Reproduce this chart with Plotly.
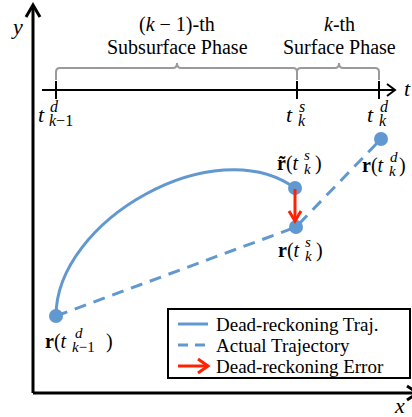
import plotly.graph_objects as go

# ---------------- data (diagram coordinates, y grows downward) ----------------
actual_x = [56, 296, 381]          # r(t_{k-1}^d), r(t_k^s), r(t_k^d)
actual_y = [316, 227, 139]
dr_ctrl_x = [56, 56, 215, 295]     # dead-reckoning arc (cubic Bezier control points)
dr_ctrl_y = [316, 220, 130, 188]
err_x = [295, 295]                 # dead-reckoning error arrow (from r~ to r)
err_y = [189, 221]
time_ticks_x = [56, 297, 379]
time_axis_y = 90
phase_mid_x = [177, 339]
phase_titles = ["(<i>k</i> − 1)-th", "<i>k</i>-th"]
phase_names = ["Subsurface Phase", "Surface Phase"]
legend_labels = ["Dead-reckoning Traj.", "Actual Trajectory", "Dead-reckoning Error"]

BLUE = "#6198cf"
RED = "#ff2200"
GRAY = "#9a9a9a"
FONT = "Liberation Serif"

fig = go.Figure()
shapes = []
ann = []

def line(x0, y0, x1, y1, color="black", width=2, dash=None, layer="above"):
    shapes.append(dict(type="line", x0=x0, y0=y0, x1=x1, y1=y1, xref="x", yref="y",
                       line=dict(color=color, width=width, dash=dash), layer=layer))

def path(d, color="black", width=2, layer="above"):
    shapes.append(dict(type="path", path=d, xref="x", yref="y",
                       line=dict(color=color, width=width), layer=layer))

def text(x, y, s, size=20, xanchor="center", color="black", family=FONT):
    ann.append(dict(x=x, y=y, text=s, showarrow=False, xref="x", yref="y",
                    xanchor=xanchor, yanchor="middle",
                    font=dict(family=family, size=size, color=color)))

def sym(t_end, yc, head, sup, sub, tail=None, tail_x=None, size=20, ssize=15,
        sup_dx=1, sub_dx=1):
    text(t_end, yc, head, size=size, xanchor="right")
    text(t_end + sup_dx, yc - 8, sup, size=ssize, xanchor="left")
    text(t_end + sub_dx, yc + 6, sub, size=ssize, xanchor="left")
    if tail:
        text(tail_x, yc, tail, size=size, xanchor="left")

# ---------------- main axes ----------------
line(33, 393, 33, 6, width=3)
path("M 26,17 L 33,5 L 40,17", width=3)
line(33, 393, 420, 393, width=3)
path("M 407,386 L 418,393 L 407,400", width=3)
text(17, 26, "<i>y</i>", size=22)
text(399, 405, "<i>x</i>", size=22)

# ---------------- time axis ----------------
line(42, time_axis_y, 394, time_axis_y, width=2)
path(f"M 387,{time_axis_y-6} L 395,{time_axis_y} L 387,{time_axis_y+6}", width=2)
for tx in time_ticks_x:
    line(tx, time_axis_y - 9, tx, time_axis_y + 9, width=2)
text(407, 88, "<i>t</i>", size=22)
sym(47, 114, "<i>t</i>", "<i>d</i>", "<i>k</i>−1", size=22, ssize=16, sup_dx=1, sub_dx=0)
sym(295, 114, "<i>t</i>", "<i>s</i>", "<i>k</i>", size=22, ssize=16, sup_dx=2, sub_dx=1)
sym(376, 114, "<i>t</i>", "<i>d</i>", "<i>k</i>", size=22, ssize=16, sup_dx=2, sub_dx=1)

# ---------------- braces ----------------
bounds = [(time_ticks_x[0], time_ticks_x[1]), (time_ticks_x[1], time_ticks_x[2])]
for (a, b), m in zip(bounds, phase_mid_x):
    path(f"M {a},80 L {a},72 Q {a},68 {a+4},68 L {m-4},68 Q {m},68 {m},63 "
         f"Q {m},68 {m+4},68 L {b-4},68 Q {b},68 {b},72 L {b},80", color=GRAY, width=2)
for m, t1, t2 in zip(phase_mid_x, phase_titles, phase_names):
    text(m, 24, t1)
    text(m, 47, t2)

# ---------------- trajectories ----------------
arc = (f"M {dr_ctrl_x[0]},{dr_ctrl_y[0]} C {dr_ctrl_x[1]},{dr_ctrl_y[1]} "
       f"{dr_ctrl_x[2]},{dr_ctrl_y[2]} {dr_ctrl_x[3]},{dr_ctrl_y[3]}")
path(arc, color=BLUE, width=3, layer="below")

fig.add_trace(go.Scatter(x=actual_x, y=actual_y, mode="lines",
                         line=dict(color=BLUE, width=3, dash="12px,8px"),
                         showlegend=False, hoverinfo="skip"))
fig.add_trace(go.Scatter(x=actual_x + [dr_ctrl_x[3]], y=actual_y + [dr_ctrl_y[3]],
                         mode="markers", marker=dict(color=BLUE, size=14),
                         showlegend=False, hoverinfo="skip"))

# error arrow
line(err_x[0], err_y[0], err_x[1], err_y[1], color=RED, width=3)
path(f"M {err_x[1]-6},{err_y[1]-10} L {err_x[1]},{err_y[1]} L {err_x[1]+6},{err_y[1]-10}",
     color=RED, width=3)

# point labels
sym(301, 163, "<b>r̃</b>(<i>t</i>", "<i>s</i>", "<i>k</i>", tail=")", tail_x=313)
sym(302, 250, "<b>r</b>(<i>t</i>", "<i>s</i>", "<i>k</i>", tail=")", tail_x=314)
sym(386, 165, "<b>r</b>(<i>t</i>", "<i>d</i>", "<i>k</i>", tail=")", tail_x=397, sup_dx=2)
sym(69, 341, "<b>r</b>(<i>t</i>", "<i>d</i>", "<i>k</i>−1", tail=")", tail_x=104, sup_dx=4)

# ---------------- legend ----------------
shapes.append(dict(type="rect", x0=168, y0=309, x1=410, y1=378, xref="x", yref="y",
                   line=dict(color="black", width=2), fillcolor="white", layer="above"))
ly = [324, 345, 366]
line(178, ly[0], 208, ly[0], color=BLUE, width=3)
line(178, ly[1], 208, ly[1], color=BLUE, width=3, dash="10px,7px")
line(178, ly[2], 207, ly[2], color=RED, width=3)
path(f"M 198,{ly[2]-7} L 208,{ly[2]} L 198,{ly[2]+7}", color=RED, width=3)
for yy, s in zip(ly, legend_labels):
    text(214, yy, s, size=19, xanchor="left")

fig.update_layout(
    width=412, height=417, margin=dict(l=0, r=0, t=0, b=0),
    paper_bgcolor="white", plot_bgcolor="white",
    xaxis=dict(range=[0, 412], visible=False, fixedrange=True),
    yaxis=dict(range=[417, 0], visible=False, fixedrange=True),
    shapes=shapes, annotations=ann, showlegend=False,
)
fig.write_html("out.html", config={"displayModeBar": False},
               post_script="document.body.style.margin='0';document.body.style.overflow='hidden';")
